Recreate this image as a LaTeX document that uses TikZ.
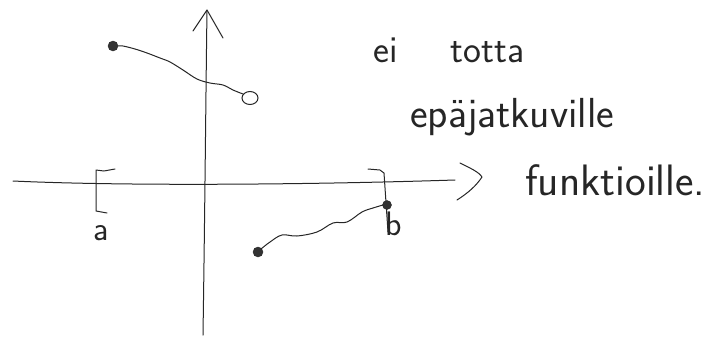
\documentclass[tikz,border=0pt]{standalone}
\usepackage{fontspec}
\usetikzlibrary{shapes.geometric}
\tikzset{
  pen/.style={line width=1pt, draw=black!85, line cap=round, line join=round},
  hand/.style={font=\sffamily, inner sep=0pt, anchor=base west, text=black!85},
  lbl/.style={font=\sffamily\fontsize{34}{34}\selectfont, inner sep=0pt, text=black!85},
  fdot/.style={circle, fill=black!80, draw=black!85, inner sep=0pt, minimum size=10pt},
  odot/.style={ellipse, draw=black!85, line width=1pt, inner sep=0pt, minimum width=16pt, minimum height=13pt},
}
\begin{document}
\begin{tikzpicture}[x=1pt,y=-1pt]
\useasboundingbox (0,0) rectangle (726,338);
% axes
\coordinate (yb) at (203,335);
\coordinate (yt) at (207,10);
\coordinate (xl) at (13,181);
\coordinate (xr) at (455,180);
\draw[pen] (yb) .. controls (205,200) and (206,80) .. (yt);
\draw[pen] (193,31) -- (yt) -- (223,38);
\draw[pen] (xl) .. controls (120,186) and (300,185) .. (xr);
\draw[pen] (460,163) .. controls (470,168) and (479,172) .. (482,177) .. controls (476,186) and (468,193) .. (457,200);
% brackets
\draw[pen] (115,169) -- (104,171) -- (96,170) -- (96,211) -- (107,213);
\draw[pen] (368,169) -- (380,170) -- (384,173) -- (388,232);
% labels a, b
\node[lbl] (a) at (101,233) {a};
\node[lbl, anchor=west] (b) at (385,224) {b};
% top piece
\node[fdot] (p1) at (113,46) {};
\node[odot] (p2) at (250,98) {};
\draw[pen] plot[smooth, tension=0.6] coordinates {(118,46) (123,46) (135,49) (147,53) (160,58) (170,62) (183,70) (197,79) (210,83) (223,85) (233,90) (243,94)};
% bottom piece
\node[fdot] (q1) at (258,252) {};
\node[fdot, minimum size=9pt] (q2) at (387,205) {};
\draw[pen] plot[smooth, tension=0.6] coordinates {(261,249) (270,242) (282,235) (297,236) (317,232) (333,223) (347,222) (362,212) (373,208) (383,205)};
% text
\node[hand, font=\sffamily\fontsize{38}{38}\selectfont] (t1) at (373,62) {ei\hspace{1.4em}totta};
\node[hand, font=\sffamily\fontsize{42}{42}\selectfont] (t2) at (410,127) {epäjatkuville};
\node[hand, font=\sffamily\fontsize{44}{44}\selectfont] (t3) at (525,195) {funktioille.};
\end{tikzpicture}
\end{document}
